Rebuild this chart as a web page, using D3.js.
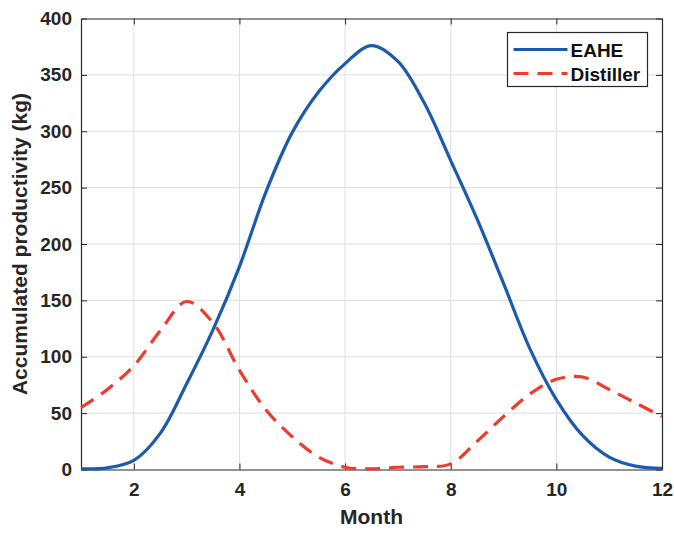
<!DOCTYPE html>
<html>
<head>
<meta charset="utf-8">
<script src="https://cdn.jsdelivr.net/npm/d3@7"></script>
<style>
  html, body { margin: 0; padding: 0; background: #fff; }
  svg { display: block; font-family: "Liberation Sans", Arial, Helvetica, sans-serif; }
</style>
</head>
<body>
<svg id="chart" width="674" height="534"></svg>
<script>
// Monthly accumulated productivity, sampled every half month
const months = [1, 1.5, 2, 2.5, 3, 3.5, 4, 4.5, 5, 5.5, 6, 6.5, 7, 7.5, 8, 8.5, 9, 9.5, 10, 10.5, 11, 11.5, 12];
const eahe = [0.5, 1.5, 8, 32, 76, 124, 180, 246, 299, 335, 360, 376, 362, 325, 274, 222, 165, 107, 62, 30, 11, 3, 1];
const distiller = [55, 71, 92, 123, 149, 130, 88, 53, 29, 11, 2, 0.5, 2, 2.5, 5, 25, 47, 67, 80, 82, 71, 59, 47];

const xTicks = [2, 4, 6, 8, 10, 12];
const yTicks = [0, 50, 100, 150, 200, 250, 300, 350, 400];
const seriesNames = ["EAHE", "Distiller"];
const seriesColors = ["#1c5aab", "#f03a2c"];

const svg = d3.select("#chart");
const margin = { left: 81, top: 18.5, right: 674 - 662, bottom: 534 - 469.5 };
const W = 674 - margin.left - margin.right;
const H = 534 - margin.top - margin.bottom;

const x = d3.scaleLinear().domain([1, 12]).range([0, W]);
const y = d3.scaleLinear().domain([0, 400]).range([H, 0]);

const g = svg.append("g").attr("transform", `translate(${margin.left},${margin.top})`);

// grid
g.append("g").selectAll("line").data(xTicks.filter(t => t < 12)).join("line")
  .attr("x1", d => x(d)).attr("x2", d => x(d)).attr("y1", 0).attr("y2", H)
  .attr("stroke", "#dcdfe0").attr("stroke-width", 1);
g.append("g").selectAll("line").data(yTicks.filter(t => t > 0 && t < 400)).join("line")
  .attr("y1", d => y(d)).attr("y2", d => y(d)).attr("x1", 0).attr("x2", W)
  .attr("stroke", "#dcdfe0").attr("stroke-width", 1);

// axes
const tickFont = g => g.selectAll("text")
  .attr("font-size", 19).attr("font-weight", "bold").attr("fill", "#262626");

const xAxis = g.append("g").attr("transform", `translate(0,${H})`)
  .call(d3.axisBottom(x).tickValues(xTicks).tickSizeInner(-6).tickSizeOuter(0).tickPadding(13));
xAxis.call(tickFont);
const yAxis = g.append("g")
  .call(d3.axisLeft(y).tickValues(yTicks).tickSizeInner(-6).tickSizeOuter(0).tickPadding(9));
yAxis.call(tickFont);
const xTop = g.append("g")
  .call(d3.axisTop(x).tickValues(xTicks).tickSizeInner(-6).tickSizeOuter(0).tickFormat(""));
const yRight = g.append("g").attr("transform", `translate(${W},0)`)
  .call(d3.axisRight(y).tickValues(yTicks).tickSizeInner(-6).tickSizeOuter(0).tickFormat(""));
[xAxis, yAxis, xTop, yRight].forEach(a => {
  a.selectAll("path.domain").attr("stroke", "#262626").attr("stroke-width", 1.2);
  a.selectAll(".tick line").attr("stroke", "#262626");
});

// lines
const line = d3.line().x(d => x(d[0])).y(d => y(d[1])).curve(d3.curveCatmullRom.alpha(0.5));

g.append("path").datum(months.map((m, i) => [m, distiller[i]]))
  .attr("d", line).attr("fill", "none")
  .attr("stroke", seriesColors[1]).attr("stroke-width", 3.2)
  .attr("stroke-dasharray", "15 9");
g.append("path").datum(months.map((m, i) => [m, eahe[i]]))
  .attr("d", line).attr("fill", "none")
  .attr("stroke", seriesColors[0]).attr("stroke-width", 3.2);

// axis titles
svg.append("text").attr("x", margin.left + W / 2).attr("y", 524)
  .attr("text-anchor", "middle").attr("font-size", 21).attr("font-weight", "bold")
  .attr("fill", "#262626").text("Month");
svg.append("text")
  .attr("transform", `translate(27,${margin.top + H / 2}) rotate(-90)`)
  .attr("text-anchor", "middle").attr("font-size", 21).attr("font-weight", "bold")
  .attr("fill", "#262626").text("Accumulated productivity (kg)");

// legend
const lg = svg.append("g").attr("transform", "translate(507.5,32.5)");
lg.append("rect").attr("width", 140).attr("height", 54)
  .attr("fill", "#fff").attr("stroke", "#262626").attr("stroke-width", 1.2);
seriesNames.forEach((name, i) => {
  const cy = 17 + i * 24;
  lg.append("line").attr("x1", 6).attr("x2", 60).attr("y1", cy).attr("y2", cy)
    .attr("stroke", seriesColors[i]).attr("stroke-width", 3.2)
    .attr("stroke-dasharray", i === 1 ? "15 9" : null);
  lg.append("text").attr("x", 63).attr("y", cy + 7)
    .attr("font-size", 19).attr("font-weight", "bold").attr("fill", "#111").text(name);
});
</script>
</body>
</html>
